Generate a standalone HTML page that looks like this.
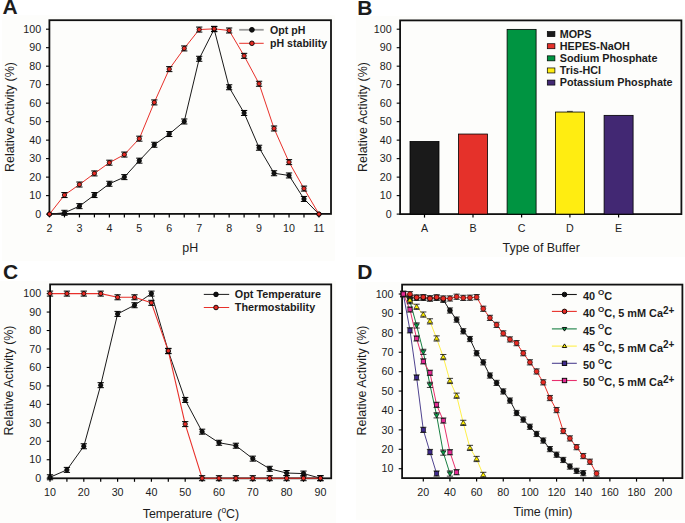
<!DOCTYPE html><html><head><meta charset="utf-8"><style>html,body{margin:0;padding:0;background:#fff;}svg{display:block;}text{font-family:"Liberation Sans", sans-serif;fill:#1c1c1c;}.b{font-weight:bold;}</style></head><body>
<svg width="685" height="523" viewBox="0 0 685 523">
<rect x="0" y="0" width="685" height="523" fill="#ffffff"/>
<rect x="2" y="15.3" width="332.8" height="245.5" fill="#fdfdfb"/>
<rect x="356.1" y="16.1" width="328.9" height="240.8" fill="#fdfdfb"/>
<rect x="0" y="281" width="336" height="242" fill="#fdfdfb"/>
<rect x="356.0" y="282" width="329" height="237.7" fill="#fdfdfb"/>
<text class="b" x="2.60" y="13.80" font-size="21">A</text>
<rect x="49.40" y="20.20" width="281.60" height="193.70" fill="none" stroke="#111" stroke-width="1.8"/>
<line x1="46.00" y1="214.10" x2="49.40" y2="214.10" stroke="#000" stroke-width="1.1"/>
<text x="41.20" y="217.80" font-size="10.7" text-anchor="end">0</text>
<line x1="46.00" y1="195.61" x2="49.40" y2="195.61" stroke="#000" stroke-width="1.1"/>
<text x="41.20" y="199.31" font-size="10.7" text-anchor="end">10</text>
<line x1="46.00" y1="177.12" x2="49.40" y2="177.12" stroke="#000" stroke-width="1.1"/>
<text x="41.20" y="180.82" font-size="10.7" text-anchor="end">20</text>
<line x1="46.00" y1="158.63" x2="49.40" y2="158.63" stroke="#000" stroke-width="1.1"/>
<text x="41.20" y="162.33" font-size="10.7" text-anchor="end">30</text>
<line x1="46.00" y1="140.14" x2="49.40" y2="140.14" stroke="#000" stroke-width="1.1"/>
<text x="41.20" y="143.84" font-size="10.7" text-anchor="end">40</text>
<line x1="46.00" y1="121.65" x2="49.40" y2="121.65" stroke="#000" stroke-width="1.1"/>
<text x="41.20" y="125.35" font-size="10.7" text-anchor="end">50</text>
<line x1="46.00" y1="103.16" x2="49.40" y2="103.16" stroke="#000" stroke-width="1.1"/>
<text x="41.20" y="106.86" font-size="10.7" text-anchor="end">60</text>
<line x1="46.00" y1="84.67" x2="49.40" y2="84.67" stroke="#000" stroke-width="1.1"/>
<text x="41.20" y="88.37" font-size="10.7" text-anchor="end">70</text>
<line x1="46.00" y1="66.18" x2="49.40" y2="66.18" stroke="#000" stroke-width="1.1"/>
<text x="41.20" y="69.88" font-size="10.7" text-anchor="end">80</text>
<line x1="46.00" y1="47.69" x2="49.40" y2="47.69" stroke="#000" stroke-width="1.1"/>
<text x="41.20" y="51.39" font-size="10.7" text-anchor="end">90</text>
<line x1="46.00" y1="29.20" x2="49.40" y2="29.20" stroke="#000" stroke-width="1.1"/>
<text x="41.20" y="32.90" font-size="10.7" text-anchor="end">100</text>
<line x1="49.50" y1="213.90" x2="49.50" y2="217.40" stroke="#000" stroke-width="1.2"/>
<text x="49.50" y="232.00" font-size="10.7" text-anchor="middle">2</text>
<line x1="64.47" y1="213.90" x2="64.47" y2="217.40" stroke="#000" stroke-width="1.2"/>
<line x1="79.44" y1="213.90" x2="79.44" y2="217.40" stroke="#000" stroke-width="1.2"/>
<text x="79.44" y="232.00" font-size="10.7" text-anchor="middle">3</text>
<line x1="94.41" y1="213.90" x2="94.41" y2="217.40" stroke="#000" stroke-width="1.2"/>
<line x1="109.38" y1="213.90" x2="109.38" y2="217.40" stroke="#000" stroke-width="1.2"/>
<text x="109.38" y="232.00" font-size="10.7" text-anchor="middle">4</text>
<line x1="124.35" y1="213.90" x2="124.35" y2="217.40" stroke="#000" stroke-width="1.2"/>
<line x1="139.32" y1="213.90" x2="139.32" y2="217.40" stroke="#000" stroke-width="1.2"/>
<text x="139.32" y="232.00" font-size="10.7" text-anchor="middle">5</text>
<line x1="154.29" y1="213.90" x2="154.29" y2="217.40" stroke="#000" stroke-width="1.2"/>
<line x1="169.26" y1="213.90" x2="169.26" y2="217.40" stroke="#000" stroke-width="1.2"/>
<text x="169.26" y="232.00" font-size="10.7" text-anchor="middle">6</text>
<line x1="184.23" y1="213.90" x2="184.23" y2="217.40" stroke="#000" stroke-width="1.2"/>
<line x1="199.20" y1="213.90" x2="199.20" y2="217.40" stroke="#000" stroke-width="1.2"/>
<text x="199.20" y="232.00" font-size="10.7" text-anchor="middle">7</text>
<line x1="214.17" y1="213.90" x2="214.17" y2="217.40" stroke="#000" stroke-width="1.2"/>
<line x1="229.14" y1="213.90" x2="229.14" y2="217.40" stroke="#000" stroke-width="1.2"/>
<text x="229.14" y="232.00" font-size="10.7" text-anchor="middle">8</text>
<line x1="244.11" y1="213.90" x2="244.11" y2="217.40" stroke="#000" stroke-width="1.2"/>
<line x1="259.08" y1="213.90" x2="259.08" y2="217.40" stroke="#000" stroke-width="1.2"/>
<text x="259.08" y="232.00" font-size="10.7" text-anchor="middle">9</text>
<line x1="274.05" y1="213.90" x2="274.05" y2="217.40" stroke="#000" stroke-width="1.2"/>
<line x1="289.02" y1="213.90" x2="289.02" y2="217.40" stroke="#000" stroke-width="1.2"/>
<text x="289.02" y="232.00" font-size="10.7" text-anchor="middle">10</text>
<line x1="303.99" y1="213.90" x2="303.99" y2="217.40" stroke="#000" stroke-width="1.2"/>
<line x1="318.96" y1="213.90" x2="318.96" y2="217.40" stroke="#000" stroke-width="1.2"/>
<text x="318.96" y="232.00" font-size="10.7" text-anchor="middle">11</text>
<text x="190.20" y="251.70" font-size="12.45" text-anchor="middle">pH</text>
<text transform="translate(13.80,172.00) rotate(-90)" font-size="12.45">Relative Activity (%)</text>
<path d="M49.50 214.10L64.47 212.81L79.44 206.15L94.41 195.06L109.38 183.78L124.35 177.12L139.32 160.66L154.29 144.76L169.26 134.04L184.23 121.47L199.20 58.78L214.17 29.20L229.14 87.26L244.11 112.96L259.08 147.72L274.05 173.24L289.02 175.46L303.99 198.94L318.96 214.10" fill="none" stroke="#1a1a1a" stroke-width="1.0" stroke-linejoin="round"/>
<path d="M49.50 214.10L64.47 195.06L79.44 184.52L94.41 173.42L109.38 162.70L124.35 154.56L139.32 138.66L154.29 102.42L169.26 69.14L184.23 48.43L199.20 29.57L214.17 28.83L229.14 30.49L244.11 55.83L259.08 83.75L274.05 128.49L289.02 162.14L303.99 188.58L318.96 214.10" fill="none" stroke="#e8302a" stroke-width="1.0" stroke-linejoin="round"/>
<circle cx="49.50" cy="214.10" r="2.15" fill="#111" stroke="#000" stroke-width="0.8"/>
<path d="M61.32 210.31H67.62M61.32 215.31H67.62M64.47 210.31V215.31" stroke="#000" stroke-width="1" fill="none"/>
<circle cx="64.47" cy="212.81" r="2.15" fill="#111" stroke="#000" stroke-width="0.8"/>
<path d="M76.29 203.65H82.59M76.29 208.65H82.59M79.44 203.65V208.65" stroke="#000" stroke-width="1" fill="none"/>
<circle cx="79.44" cy="206.15" r="2.15" fill="#111" stroke="#000" stroke-width="0.8"/>
<path d="M91.26 192.56H97.56M91.26 197.56H97.56M94.41 192.56V197.56" stroke="#000" stroke-width="1" fill="none"/>
<circle cx="94.41" cy="195.06" r="2.15" fill="#111" stroke="#000" stroke-width="0.8"/>
<path d="M106.23 181.28H112.53M106.23 186.28H112.53M109.38 181.28V186.28" stroke="#000" stroke-width="1" fill="none"/>
<circle cx="109.38" cy="183.78" r="2.15" fill="#111" stroke="#000" stroke-width="0.8"/>
<path d="M121.20 174.62H127.50M121.20 179.62H127.50M124.35 174.62V179.62" stroke="#000" stroke-width="1" fill="none"/>
<circle cx="124.35" cy="177.12" r="2.15" fill="#111" stroke="#000" stroke-width="0.8"/>
<path d="M136.17 158.16H142.47M136.17 163.16H142.47M139.32 158.16V163.16" stroke="#000" stroke-width="1" fill="none"/>
<circle cx="139.32" cy="160.66" r="2.15" fill="#111" stroke="#000" stroke-width="0.8"/>
<path d="M151.14 142.26H157.44M151.14 147.26H157.44M154.29 142.26V147.26" stroke="#000" stroke-width="1" fill="none"/>
<circle cx="154.29" cy="144.76" r="2.15" fill="#111" stroke="#000" stroke-width="0.8"/>
<path d="M166.11 131.54H172.41M166.11 136.54H172.41M169.26 131.54V136.54" stroke="#000" stroke-width="1" fill="none"/>
<circle cx="169.26" cy="134.04" r="2.15" fill="#111" stroke="#000" stroke-width="0.8"/>
<path d="M181.08 118.97H187.38M181.08 123.97H187.38M184.23 118.97V123.97" stroke="#000" stroke-width="1" fill="none"/>
<circle cx="184.23" cy="121.47" r="2.15" fill="#111" stroke="#000" stroke-width="0.8"/>
<path d="M196.05 56.28H202.35M196.05 61.28H202.35M199.20 56.28V61.28" stroke="#000" stroke-width="1" fill="none"/>
<circle cx="199.20" cy="58.78" r="2.15" fill="#111" stroke="#000" stroke-width="0.8"/>
<path d="M211.02 26.70H217.32M211.02 31.70H217.32M214.17 26.70V31.70" stroke="#000" stroke-width="1" fill="none"/>
<circle cx="214.17" cy="29.20" r="2.15" fill="#111" stroke="#000" stroke-width="0.8"/>
<path d="M225.99 84.76H232.29M225.99 89.76H232.29M229.14 84.76V89.76" stroke="#000" stroke-width="1" fill="none"/>
<circle cx="229.14" cy="87.26" r="2.15" fill="#111" stroke="#000" stroke-width="0.8"/>
<path d="M240.96 110.46H247.26M240.96 115.46H247.26M244.11 110.46V115.46" stroke="#000" stroke-width="1" fill="none"/>
<circle cx="244.11" cy="112.96" r="2.15" fill="#111" stroke="#000" stroke-width="0.8"/>
<path d="M255.93 145.22H262.23M255.93 150.22H262.23M259.08 145.22V150.22" stroke="#000" stroke-width="1" fill="none"/>
<circle cx="259.08" cy="147.72" r="2.15" fill="#111" stroke="#000" stroke-width="0.8"/>
<path d="M270.90 170.74H277.20M270.90 175.74H277.20M274.05 170.74V175.74" stroke="#000" stroke-width="1" fill="none"/>
<circle cx="274.05" cy="173.24" r="2.15" fill="#111" stroke="#000" stroke-width="0.8"/>
<path d="M285.87 172.96H292.17M285.87 177.96H292.17M289.02 172.96V177.96" stroke="#000" stroke-width="1" fill="none"/>
<circle cx="289.02" cy="175.46" r="2.15" fill="#111" stroke="#000" stroke-width="0.8"/>
<path d="M300.84 196.44H307.14M300.84 201.44H307.14M303.99 196.44V201.44" stroke="#000" stroke-width="1" fill="none"/>
<circle cx="303.99" cy="198.94" r="2.15" fill="#111" stroke="#000" stroke-width="0.8"/>
<circle cx="318.96" cy="214.10" r="2.15" fill="#111" stroke="#000" stroke-width="0.8"/>
<circle cx="49.50" cy="214.10" r="2.15" fill="#e62b24" stroke="#000" stroke-width="0.8"/>
<path d="M61.32 192.56H67.62M61.32 197.56H67.62M64.47 192.56V197.56" stroke="#000" stroke-width="1" fill="none"/>
<circle cx="64.47" cy="195.06" r="2.15" fill="#e62b24" stroke="#000" stroke-width="0.8"/>
<path d="M76.29 182.02H82.59M76.29 187.02H82.59M79.44 182.02V187.02" stroke="#000" stroke-width="1" fill="none"/>
<circle cx="79.44" cy="184.52" r="2.15" fill="#e62b24" stroke="#000" stroke-width="0.8"/>
<path d="M91.26 170.92H97.56M91.26 175.92H97.56M94.41 170.92V175.92" stroke="#000" stroke-width="1" fill="none"/>
<circle cx="94.41" cy="173.42" r="2.15" fill="#e62b24" stroke="#000" stroke-width="0.8"/>
<path d="M106.23 160.20H112.53M106.23 165.20H112.53M109.38 160.20V165.20" stroke="#000" stroke-width="1" fill="none"/>
<circle cx="109.38" cy="162.70" r="2.15" fill="#e62b24" stroke="#000" stroke-width="0.8"/>
<path d="M121.20 152.06H127.50M121.20 157.06H127.50M124.35 152.06V157.06" stroke="#000" stroke-width="1" fill="none"/>
<circle cx="124.35" cy="154.56" r="2.15" fill="#e62b24" stroke="#000" stroke-width="0.8"/>
<path d="M136.17 136.16H142.47M136.17 141.16H142.47M139.32 136.16V141.16" stroke="#000" stroke-width="1" fill="none"/>
<circle cx="139.32" cy="138.66" r="2.15" fill="#e62b24" stroke="#000" stroke-width="0.8"/>
<path d="M151.14 99.92H157.44M151.14 104.92H157.44M154.29 99.92V104.92" stroke="#000" stroke-width="1" fill="none"/>
<circle cx="154.29" cy="102.42" r="2.15" fill="#e62b24" stroke="#000" stroke-width="0.8"/>
<path d="M166.11 66.64H172.41M166.11 71.64H172.41M169.26 66.64V71.64" stroke="#000" stroke-width="1" fill="none"/>
<circle cx="169.26" cy="69.14" r="2.15" fill="#e62b24" stroke="#000" stroke-width="0.8"/>
<path d="M181.08 45.93H187.38M181.08 50.93H187.38M184.23 45.93V50.93" stroke="#000" stroke-width="1" fill="none"/>
<circle cx="184.23" cy="48.43" r="2.15" fill="#e62b24" stroke="#000" stroke-width="0.8"/>
<path d="M196.05 27.07H202.35M196.05 32.07H202.35M199.20 27.07V32.07" stroke="#000" stroke-width="1" fill="none"/>
<circle cx="199.20" cy="29.57" r="2.15" fill="#e62b24" stroke="#000" stroke-width="0.8"/>
<path d="M211.02 26.33H217.32M211.02 31.33H217.32M214.17 26.33V31.33" stroke="#000" stroke-width="1" fill="none"/>
<circle cx="214.17" cy="28.83" r="2.15" fill="#e62b24" stroke="#000" stroke-width="0.8"/>
<path d="M225.99 27.99H232.29M225.99 32.99H232.29M229.14 27.99V32.99" stroke="#000" stroke-width="1" fill="none"/>
<circle cx="229.14" cy="30.49" r="2.15" fill="#e62b24" stroke="#000" stroke-width="0.8"/>
<path d="M240.96 53.33H247.26M240.96 58.33H247.26M244.11 53.33V58.33" stroke="#000" stroke-width="1" fill="none"/>
<circle cx="244.11" cy="55.83" r="2.15" fill="#e62b24" stroke="#000" stroke-width="0.8"/>
<path d="M255.93 81.25H262.23M255.93 86.25H262.23M259.08 81.25V86.25" stroke="#000" stroke-width="1" fill="none"/>
<circle cx="259.08" cy="83.75" r="2.15" fill="#e62b24" stroke="#000" stroke-width="0.8"/>
<path d="M270.90 125.99H277.20M270.90 130.99H277.20M274.05 125.99V130.99" stroke="#000" stroke-width="1" fill="none"/>
<circle cx="274.05" cy="128.49" r="2.15" fill="#e62b24" stroke="#000" stroke-width="0.8"/>
<path d="M285.87 159.64H292.17M285.87 164.64H292.17M289.02 159.64V164.64" stroke="#000" stroke-width="1" fill="none"/>
<circle cx="289.02" cy="162.14" r="2.15" fill="#e62b24" stroke="#000" stroke-width="0.8"/>
<path d="M300.84 186.08H307.14M300.84 191.08H307.14M303.99 186.08V191.08" stroke="#000" stroke-width="1" fill="none"/>
<circle cx="303.99" cy="188.58" r="2.15" fill="#e62b24" stroke="#000" stroke-width="0.8"/>
<circle cx="318.96" cy="214.10" r="2.15" fill="#e62b24" stroke="#000" stroke-width="0.8"/>
<line x1="239.2" y1="29.8" x2="263.7" y2="29.8" stroke="#9a9a9a" stroke-width="1.8"/>
<circle cx="251.90" cy="29.80" r="2.40" fill="#111" stroke="#000" stroke-width="0.9"/>
<line x1="239.2" y1="43.3" x2="263.7" y2="43.3" stroke="#e8302a" stroke-width="1"/>
<circle cx="251.90" cy="43.30" r="2.30" fill="#e62b24" stroke="#000" stroke-width="0.9"/>
<text class="b" x="270.0" y="33.9" font-size="10.6">Opt pH</text>
<text class="b" x="270.0" y="47.4" font-size="10.6">pH stability</text>
<text class="b" x="357.30" y="15.00" font-size="21">B</text>
<rect x="400.10" y="20.40" width="281.30" height="193.70" fill="none" stroke="#111" stroke-width="1.8"/>
<line x1="396.70" y1="214.10" x2="400.10" y2="214.10" stroke="#000" stroke-width="1.1"/>
<text x="391.60" y="217.80" font-size="10.7" text-anchor="end">0</text>
<line x1="396.70" y1="195.61" x2="400.10" y2="195.61" stroke="#000" stroke-width="1.1"/>
<text x="391.60" y="199.31" font-size="10.7" text-anchor="end">10</text>
<line x1="396.70" y1="177.12" x2="400.10" y2="177.12" stroke="#000" stroke-width="1.1"/>
<text x="391.60" y="180.82" font-size="10.7" text-anchor="end">20</text>
<line x1="396.70" y1="158.63" x2="400.10" y2="158.63" stroke="#000" stroke-width="1.1"/>
<text x="391.60" y="162.33" font-size="10.7" text-anchor="end">30</text>
<line x1="396.70" y1="140.14" x2="400.10" y2="140.14" stroke="#000" stroke-width="1.1"/>
<text x="391.60" y="143.84" font-size="10.7" text-anchor="end">40</text>
<line x1="396.70" y1="121.65" x2="400.10" y2="121.65" stroke="#000" stroke-width="1.1"/>
<text x="391.60" y="125.35" font-size="10.7" text-anchor="end">50</text>
<line x1="396.70" y1="103.16" x2="400.10" y2="103.16" stroke="#000" stroke-width="1.1"/>
<text x="391.60" y="106.86" font-size="10.7" text-anchor="end">60</text>
<line x1="396.70" y1="84.67" x2="400.10" y2="84.67" stroke="#000" stroke-width="1.1"/>
<text x="391.60" y="88.37" font-size="10.7" text-anchor="end">70</text>
<line x1="396.70" y1="66.18" x2="400.10" y2="66.18" stroke="#000" stroke-width="1.1"/>
<text x="391.60" y="69.88" font-size="10.7" text-anchor="end">80</text>
<line x1="396.70" y1="47.69" x2="400.10" y2="47.69" stroke="#000" stroke-width="1.1"/>
<text x="391.60" y="51.39" font-size="10.7" text-anchor="end">90</text>
<line x1="396.70" y1="29.20" x2="400.10" y2="29.20" stroke="#000" stroke-width="1.1"/>
<text x="391.60" y="32.90" font-size="10.7" text-anchor="end">100</text>
<rect x="410.00" y="141.43" width="29.00" height="72.67" fill="#1a1a1a" stroke="#000" stroke-width="0.8"/>
<line x1="424.50" y1="214.10" x2="424.50" y2="217.60" stroke="#000" stroke-width="1.2"/>
<text x="424.50" y="231.80" font-size="10.7" text-anchor="middle">A</text>
<rect x="458.50" y="134.04" width="29.00" height="80.06" fill="#e5312a" stroke="#000" stroke-width="0.8"/>
<line x1="473.00" y1="214.10" x2="473.00" y2="217.60" stroke="#000" stroke-width="1.2"/>
<text x="473.00" y="231.80" font-size="10.7" text-anchor="middle">B</text>
<rect x="507.10" y="29.38" width="29.00" height="184.72" fill="#009441" stroke="#000" stroke-width="0.8"/>
<line x1="521.60" y1="214.10" x2="521.60" y2="217.60" stroke="#000" stroke-width="1.2"/>
<text x="521.60" y="231.80" font-size="10.7" text-anchor="middle">C</text>
<rect x="555.40" y="112.04" width="29.00" height="102.06" fill="#ffed11" stroke="#000" stroke-width="0.8"/>
<line x1="569.90" y1="214.10" x2="569.90" y2="217.60" stroke="#000" stroke-width="1.2"/>
<text x="569.90" y="231.80" font-size="10.7" text-anchor="middle">D</text>
<rect x="604.10" y="115.36" width="29.00" height="98.74" fill="#422873" stroke="#000" stroke-width="0.8"/>
<line x1="618.60" y1="214.10" x2="618.60" y2="217.60" stroke="#000" stroke-width="1.2"/>
<text x="618.60" y="231.80" font-size="10.7" text-anchor="middle">E</text>
<line x1="567" y1="111.4" x2="572.8" y2="111.4" stroke="#333" stroke-width="1"/>
<text x="541.20" y="251.80" font-size="12.45" text-anchor="middle">Type of Buffer</text>
<text transform="translate(366.90,172.00) rotate(-90)" font-size="12.45">Relative Activity (%)</text>
<rect x="547.3" y="31.60" width="7.6" height="5" fill="#1a1a1a" stroke="#000" stroke-width="0.7"/>
<text class="b" x="559.7" y="37.90" font-size="10.8">MOPS</text>
<rect x="547.3" y="43.72" width="7.6" height="5" fill="#e5312a" stroke="#000" stroke-width="0.7"/>
<text class="b" x="559.7" y="50.02" font-size="10.8">HEPES-NaOH</text>
<rect x="547.3" y="55.84" width="7.6" height="5" fill="#009441" stroke="#000" stroke-width="0.7"/>
<text class="b" x="559.7" y="62.14" font-size="10.8">Sodium Phosphate</text>
<rect x="547.3" y="67.96" width="7.6" height="5" fill="#ffed11" stroke="#000" stroke-width="0.7"/>
<text class="b" x="559.7" y="74.26" font-size="10.8">Tris-HCl</text>
<rect x="547.3" y="80.08" width="7.6" height="5" fill="#422873" stroke="#000" stroke-width="0.7"/>
<text class="b" x="559.7" y="86.38" font-size="10.8">Potassium Phosphate</text>
<text class="b" x="3.00" y="278.50" font-size="21">C</text>
<rect x="50.10" y="284.40" width="281.10" height="193.90" fill="none" stroke="#111" stroke-width="1.8"/>
<line x1="46.70" y1="478.20" x2="50.10" y2="478.20" stroke="#000" stroke-width="1.1"/>
<text x="41.20" y="481.90" font-size="10.7" text-anchor="end">0</text>
<line x1="46.70" y1="459.74" x2="50.10" y2="459.74" stroke="#000" stroke-width="1.1"/>
<text x="41.20" y="463.44" font-size="10.7" text-anchor="end">10</text>
<line x1="46.70" y1="441.28" x2="50.10" y2="441.28" stroke="#000" stroke-width="1.1"/>
<text x="41.20" y="444.98" font-size="10.7" text-anchor="end">20</text>
<line x1="46.70" y1="422.82" x2="50.10" y2="422.82" stroke="#000" stroke-width="1.1"/>
<text x="41.20" y="426.52" font-size="10.7" text-anchor="end">30</text>
<line x1="46.70" y1="404.36" x2="50.10" y2="404.36" stroke="#000" stroke-width="1.1"/>
<text x="41.20" y="408.06" font-size="10.7" text-anchor="end">40</text>
<line x1="46.70" y1="385.90" x2="50.10" y2="385.90" stroke="#000" stroke-width="1.1"/>
<text x="41.20" y="389.60" font-size="10.7" text-anchor="end">50</text>
<line x1="46.70" y1="367.44" x2="50.10" y2="367.44" stroke="#000" stroke-width="1.1"/>
<text x="41.20" y="371.14" font-size="10.7" text-anchor="end">60</text>
<line x1="46.70" y1="348.98" x2="50.10" y2="348.98" stroke="#000" stroke-width="1.1"/>
<text x="41.20" y="352.68" font-size="10.7" text-anchor="end">70</text>
<line x1="46.70" y1="330.52" x2="50.10" y2="330.52" stroke="#000" stroke-width="1.1"/>
<text x="41.20" y="334.22" font-size="10.7" text-anchor="end">80</text>
<line x1="46.70" y1="312.06" x2="50.10" y2="312.06" stroke="#000" stroke-width="1.1"/>
<text x="41.20" y="315.76" font-size="10.7" text-anchor="end">90</text>
<line x1="46.70" y1="293.60" x2="50.10" y2="293.60" stroke="#000" stroke-width="1.1"/>
<text x="41.20" y="297.30" font-size="10.7" text-anchor="end">100</text>
<line x1="50.00" y1="478.30" x2="50.00" y2="481.80" stroke="#000" stroke-width="1.2"/>
<text x="50.00" y="496.00" font-size="10.7" text-anchor="middle">10</text>
<line x1="66.90" y1="478.30" x2="66.90" y2="481.80" stroke="#000" stroke-width="1.2"/>
<line x1="83.80" y1="478.30" x2="83.80" y2="481.80" stroke="#000" stroke-width="1.2"/>
<text x="83.80" y="496.00" font-size="10.7" text-anchor="middle">20</text>
<line x1="100.70" y1="478.30" x2="100.70" y2="481.80" stroke="#000" stroke-width="1.2"/>
<line x1="117.60" y1="478.30" x2="117.60" y2="481.80" stroke="#000" stroke-width="1.2"/>
<text x="117.60" y="496.00" font-size="10.7" text-anchor="middle">30</text>
<line x1="134.50" y1="478.30" x2="134.50" y2="481.80" stroke="#000" stroke-width="1.2"/>
<line x1="151.40" y1="478.30" x2="151.40" y2="481.80" stroke="#000" stroke-width="1.2"/>
<text x="151.40" y="496.00" font-size="10.7" text-anchor="middle">40</text>
<line x1="168.30" y1="478.30" x2="168.30" y2="481.80" stroke="#000" stroke-width="1.2"/>
<line x1="185.20" y1="478.30" x2="185.20" y2="481.80" stroke="#000" stroke-width="1.2"/>
<text x="185.20" y="496.00" font-size="10.7" text-anchor="middle">50</text>
<line x1="202.10" y1="478.30" x2="202.10" y2="481.80" stroke="#000" stroke-width="1.2"/>
<line x1="219.00" y1="478.30" x2="219.00" y2="481.80" stroke="#000" stroke-width="1.2"/>
<text x="219.00" y="496.00" font-size="10.7" text-anchor="middle">60</text>
<line x1="235.90" y1="478.30" x2="235.90" y2="481.80" stroke="#000" stroke-width="1.2"/>
<line x1="252.80" y1="478.30" x2="252.80" y2="481.80" stroke="#000" stroke-width="1.2"/>
<text x="252.80" y="496.00" font-size="10.7" text-anchor="middle">70</text>
<line x1="269.70" y1="478.30" x2="269.70" y2="481.80" stroke="#000" stroke-width="1.2"/>
<line x1="286.60" y1="478.30" x2="286.60" y2="481.80" stroke="#000" stroke-width="1.2"/>
<text x="286.60" y="496.00" font-size="10.7" text-anchor="middle">80</text>
<line x1="303.50" y1="478.30" x2="303.50" y2="481.80" stroke="#000" stroke-width="1.2"/>
<line x1="320.40" y1="478.30" x2="320.40" y2="481.80" stroke="#000" stroke-width="1.2"/>
<text x="320.40" y="496.00" font-size="10.7" text-anchor="middle">90</text>
<text x="142.7" y="517.8" font-size="12.45">Temperature <tspan dx="1.3">(</tspan><tspan font-size="8.4" dy="-5">o</tspan><tspan dy="5" dx="-0.2">C)</tspan></text>
<text transform="translate(13.40,435.40) rotate(-90)" font-size="12.45">Relative Activity (%)</text>
<path d="M50.00 477.28L66.90 469.89L83.80 446.26L100.70 385.16L117.60 313.91L134.50 305.23L151.40 293.60L168.30 351.20L185.20 399.93L202.10 431.68L219.00 442.76L235.90 445.71L252.80 458.63L269.70 468.79L286.60 473.03L303.50 473.58L320.40 478.20" fill="none" stroke="#1a1a1a" stroke-width="1.0" stroke-linejoin="round"/>
<path d="M50.00 293.60L66.90 293.60L83.80 293.60L100.70 293.60L117.60 297.29L134.50 297.29L151.40 302.83L168.30 350.83L185.20 424.11L202.10 478.20L219.00 478.20L235.90 478.20L252.80 478.20L269.70 478.20L286.60 478.20L303.50 478.20L320.40 478.20" fill="none" stroke="#e8302a" stroke-width="1.1" stroke-linejoin="round"/>
<path d="M46.85 474.78H53.15M46.85 479.78H53.15M50.00 474.78V479.78" stroke="#000" stroke-width="1" fill="none"/>
<circle cx="50.00" cy="477.28" r="2.15" fill="#111" stroke="#000" stroke-width="0.8"/>
<path d="M63.75 467.39H70.05M63.75 472.39H70.05M66.90 467.39V472.39" stroke="#000" stroke-width="1" fill="none"/>
<circle cx="66.90" cy="469.89" r="2.15" fill="#111" stroke="#000" stroke-width="0.8"/>
<path d="M80.65 443.76H86.95M80.65 448.76H86.95M83.80 443.76V448.76" stroke="#000" stroke-width="1" fill="none"/>
<circle cx="83.80" cy="446.26" r="2.15" fill="#111" stroke="#000" stroke-width="0.8"/>
<path d="M97.55 382.66H103.85M97.55 387.66H103.85M100.70 382.66V387.66" stroke="#000" stroke-width="1" fill="none"/>
<circle cx="100.70" cy="385.16" r="2.15" fill="#111" stroke="#000" stroke-width="0.8"/>
<path d="M114.45 311.41H120.75M114.45 316.41H120.75M117.60 311.41V316.41" stroke="#000" stroke-width="1" fill="none"/>
<circle cx="117.60" cy="313.91" r="2.15" fill="#111" stroke="#000" stroke-width="0.8"/>
<path d="M131.35 302.73H137.65M131.35 307.73H137.65M134.50 302.73V307.73" stroke="#000" stroke-width="1" fill="none"/>
<circle cx="134.50" cy="305.23" r="2.15" fill="#111" stroke="#000" stroke-width="0.8"/>
<path d="M148.25 291.10H154.55M148.25 296.10H154.55M151.40 291.10V296.10" stroke="#000" stroke-width="1" fill="none"/>
<circle cx="151.40" cy="293.60" r="2.15" fill="#111" stroke="#000" stroke-width="0.8"/>
<path d="M165.15 348.70H171.45M165.15 353.70H171.45M168.30 348.70V353.70" stroke="#000" stroke-width="1" fill="none"/>
<circle cx="168.30" cy="351.20" r="2.15" fill="#111" stroke="#000" stroke-width="0.8"/>
<path d="M182.05 397.43H188.35M182.05 402.43H188.35M185.20 397.43V402.43" stroke="#000" stroke-width="1" fill="none"/>
<circle cx="185.20" cy="399.93" r="2.15" fill="#111" stroke="#000" stroke-width="0.8"/>
<path d="M198.95 429.18H205.25M198.95 434.18H205.25M202.10 429.18V434.18" stroke="#000" stroke-width="1" fill="none"/>
<circle cx="202.10" cy="431.68" r="2.15" fill="#111" stroke="#000" stroke-width="0.8"/>
<path d="M215.85 440.26H222.15M215.85 445.26H222.15M219.00 440.26V445.26" stroke="#000" stroke-width="1" fill="none"/>
<circle cx="219.00" cy="442.76" r="2.15" fill="#111" stroke="#000" stroke-width="0.8"/>
<path d="M232.75 443.21H239.05M232.75 448.21H239.05M235.90 443.21V448.21" stroke="#000" stroke-width="1" fill="none"/>
<circle cx="235.90" cy="445.71" r="2.15" fill="#111" stroke="#000" stroke-width="0.8"/>
<path d="M249.65 456.13H255.95M249.65 461.13H255.95M252.80 456.13V461.13" stroke="#000" stroke-width="1" fill="none"/>
<circle cx="252.80" cy="458.63" r="2.15" fill="#111" stroke="#000" stroke-width="0.8"/>
<path d="M266.55 466.29H272.85M266.55 471.29H272.85M269.70 466.29V471.29" stroke="#000" stroke-width="1" fill="none"/>
<circle cx="269.70" cy="468.79" r="2.15" fill="#111" stroke="#000" stroke-width="0.8"/>
<path d="M283.45 470.53H289.75M283.45 475.53H289.75M286.60 470.53V475.53" stroke="#000" stroke-width="1" fill="none"/>
<circle cx="286.60" cy="473.03" r="2.15" fill="#111" stroke="#000" stroke-width="0.8"/>
<path d="M300.35 471.08H306.65M300.35 476.08H306.65M303.50 471.08V476.08" stroke="#000" stroke-width="1" fill="none"/>
<circle cx="303.50" cy="473.58" r="2.15" fill="#111" stroke="#000" stroke-width="0.8"/>
<path d="M317.25 475.70H323.55M317.25 480.70H323.55M320.40 475.70V480.70" stroke="#000" stroke-width="1" fill="none"/>
<circle cx="320.40" cy="478.20" r="2.15" fill="#111" stroke="#000" stroke-width="0.8"/>
<path d="M46.85 291.10H53.15M46.85 296.10H53.15M50.00 291.10V296.10" stroke="#000" stroke-width="1" fill="none"/>
<circle cx="50.00" cy="293.60" r="2.15" fill="#e62b24" stroke="#000" stroke-width="0.8"/>
<path d="M63.75 291.10H70.05M63.75 296.10H70.05M66.90 291.10V296.10" stroke="#000" stroke-width="1" fill="none"/>
<circle cx="66.90" cy="293.60" r="2.15" fill="#e62b24" stroke="#000" stroke-width="0.8"/>
<path d="M80.65 291.10H86.95M80.65 296.10H86.95M83.80 291.10V296.10" stroke="#000" stroke-width="1" fill="none"/>
<circle cx="83.80" cy="293.60" r="2.15" fill="#e62b24" stroke="#000" stroke-width="0.8"/>
<path d="M97.55 291.10H103.85M97.55 296.10H103.85M100.70 291.10V296.10" stroke="#000" stroke-width="1" fill="none"/>
<circle cx="100.70" cy="293.60" r="2.15" fill="#e62b24" stroke="#000" stroke-width="0.8"/>
<path d="M114.45 294.79H120.75M114.45 299.79H120.75M117.60 294.79V299.79" stroke="#000" stroke-width="1" fill="none"/>
<circle cx="117.60" cy="297.29" r="2.15" fill="#e62b24" stroke="#000" stroke-width="0.8"/>
<path d="M131.35 294.79H137.65M131.35 299.79H137.65M134.50 294.79V299.79" stroke="#000" stroke-width="1" fill="none"/>
<circle cx="134.50" cy="297.29" r="2.15" fill="#e62b24" stroke="#000" stroke-width="0.8"/>
<path d="M148.25 300.33H154.55M148.25 305.33H154.55M151.40 300.33V305.33" stroke="#000" stroke-width="1" fill="none"/>
<circle cx="151.40" cy="302.83" r="2.15" fill="#e62b24" stroke="#000" stroke-width="0.8"/>
<path d="M165.15 348.33H171.45M165.15 353.33H171.45M168.30 348.33V353.33" stroke="#000" stroke-width="1" fill="none"/>
<circle cx="168.30" cy="350.83" r="2.15" fill="#e62b24" stroke="#000" stroke-width="0.8"/>
<path d="M182.05 421.61H188.35M182.05 426.61H188.35M185.20 421.61V426.61" stroke="#000" stroke-width="1" fill="none"/>
<circle cx="185.20" cy="424.11" r="2.15" fill="#e62b24" stroke="#000" stroke-width="0.8"/>
<path d="M198.95 475.70H205.25M198.95 480.70H205.25M202.10 475.70V480.70" stroke="#000" stroke-width="1" fill="none"/>
<circle cx="202.10" cy="478.20" r="2.15" fill="#e62b24" stroke="#000" stroke-width="0.8"/>
<path d="M215.85 475.70H222.15M215.85 480.70H222.15M219.00 475.70V480.70" stroke="#000" stroke-width="1" fill="none"/>
<circle cx="219.00" cy="478.20" r="2.15" fill="#e62b24" stroke="#000" stroke-width="0.8"/>
<path d="M232.75 475.70H239.05M232.75 480.70H239.05M235.90 475.70V480.70" stroke="#000" stroke-width="1" fill="none"/>
<circle cx="235.90" cy="478.20" r="2.15" fill="#e62b24" stroke="#000" stroke-width="0.8"/>
<path d="M249.65 475.70H255.95M249.65 480.70H255.95M252.80 475.70V480.70" stroke="#000" stroke-width="1" fill="none"/>
<circle cx="252.80" cy="478.20" r="2.15" fill="#e62b24" stroke="#000" stroke-width="0.8"/>
<path d="M266.55 475.70H272.85M266.55 480.70H272.85M269.70 475.70V480.70" stroke="#000" stroke-width="1" fill="none"/>
<circle cx="269.70" cy="478.20" r="2.15" fill="#e62b24" stroke="#000" stroke-width="0.8"/>
<path d="M283.45 475.70H289.75M283.45 480.70H289.75M286.60 475.70V480.70" stroke="#000" stroke-width="1" fill="none"/>
<circle cx="286.60" cy="478.20" r="2.15" fill="#e62b24" stroke="#000" stroke-width="0.8"/>
<path d="M300.35 475.70H306.65M300.35 480.70H306.65M303.50 475.70V480.70" stroke="#000" stroke-width="1" fill="none"/>
<circle cx="303.50" cy="478.20" r="2.15" fill="#e62b24" stroke="#000" stroke-width="0.8"/>
<path d="M317.25 475.70H323.55M317.25 480.70H323.55M320.40 475.70V480.70" stroke="#000" stroke-width="1" fill="none"/>
<circle cx="320.40" cy="478.20" r="2.15" fill="#e62b24" stroke="#000" stroke-width="0.8"/>
<line x1="203.8" y1="294.4" x2="229.2" y2="294.4" stroke="#1a1a1a" stroke-width="1"/>
<circle cx="216.00" cy="294.40" r="2.30" fill="#111" stroke="#000" stroke-width="0.9"/>
<line x1="203.8" y1="307.5" x2="229.2" y2="307.5" stroke="#e8302a" stroke-width="1"/>
<circle cx="216.00" cy="307.50" r="2.30" fill="#e62b24" stroke="#000" stroke-width="0.9"/>
<text class="b" x="234.8" y="298.1" font-size="10.8">Opt Temperature</text>
<text class="b" x="234.8" y="311.2" font-size="10.8">Thermostability</text>
<text class="b" x="357.30" y="279.20" font-size="21">D</text>
<rect x="402.10" y="284.60" width="280.30" height="193.50" fill="none" stroke="#111" stroke-width="1.8"/>
<line x1="398.70" y1="468.70" x2="402.10" y2="468.70" stroke="#000" stroke-width="1.1"/>
<text x="393.50" y="472.40" font-size="10.7" text-anchor="end">10</text>
<line x1="398.70" y1="449.29" x2="402.10" y2="449.29" stroke="#000" stroke-width="1.1"/>
<text x="393.50" y="452.99" font-size="10.7" text-anchor="end">20</text>
<line x1="398.70" y1="429.88" x2="402.10" y2="429.88" stroke="#000" stroke-width="1.1"/>
<text x="393.50" y="433.58" font-size="10.7" text-anchor="end">30</text>
<line x1="398.70" y1="410.47" x2="402.10" y2="410.47" stroke="#000" stroke-width="1.1"/>
<text x="393.50" y="414.17" font-size="10.7" text-anchor="end">40</text>
<line x1="398.70" y1="391.06" x2="402.10" y2="391.06" stroke="#000" stroke-width="1.1"/>
<text x="393.50" y="394.76" font-size="10.7" text-anchor="end">50</text>
<line x1="398.70" y1="371.65" x2="402.10" y2="371.65" stroke="#000" stroke-width="1.1"/>
<text x="393.50" y="375.35" font-size="10.7" text-anchor="end">60</text>
<line x1="398.70" y1="352.24" x2="402.10" y2="352.24" stroke="#000" stroke-width="1.1"/>
<text x="393.50" y="355.94" font-size="10.7" text-anchor="end">70</text>
<line x1="398.70" y1="332.83" x2="402.10" y2="332.83" stroke="#000" stroke-width="1.1"/>
<text x="393.50" y="336.53" font-size="10.7" text-anchor="end">80</text>
<line x1="398.70" y1="313.42" x2="402.10" y2="313.42" stroke="#000" stroke-width="1.1"/>
<text x="393.50" y="317.12" font-size="10.7" text-anchor="end">90</text>
<line x1="398.70" y1="294.01" x2="402.10" y2="294.01" stroke="#000" stroke-width="1.1"/>
<text x="393.50" y="297.71" font-size="10.7" text-anchor="end">100</text>
<line x1="423.30" y1="478.10" x2="423.30" y2="481.60" stroke="#000" stroke-width="1.2"/>
<text x="423.30" y="496.20" font-size="10.7" text-anchor="middle">20</text>
<line x1="449.95" y1="478.10" x2="449.95" y2="481.60" stroke="#000" stroke-width="1.2"/>
<text x="449.95" y="496.20" font-size="10.7" text-anchor="middle">40</text>
<line x1="476.61" y1="478.10" x2="476.61" y2="481.60" stroke="#000" stroke-width="1.2"/>
<text x="476.61" y="496.20" font-size="10.7" text-anchor="middle">60</text>
<line x1="503.26" y1="478.10" x2="503.26" y2="481.60" stroke="#000" stroke-width="1.2"/>
<text x="503.26" y="496.20" font-size="10.7" text-anchor="middle">80</text>
<line x1="529.92" y1="478.10" x2="529.92" y2="481.60" stroke="#000" stroke-width="1.2"/>
<text x="529.92" y="496.20" font-size="10.7" text-anchor="middle">100</text>
<line x1="556.58" y1="478.10" x2="556.58" y2="481.60" stroke="#000" stroke-width="1.2"/>
<text x="556.58" y="496.20" font-size="10.7" text-anchor="middle">120</text>
<line x1="583.23" y1="478.10" x2="583.23" y2="481.60" stroke="#000" stroke-width="1.2"/>
<text x="583.23" y="496.20" font-size="10.7" text-anchor="middle">140</text>
<line x1="609.89" y1="478.10" x2="609.89" y2="481.60" stroke="#000" stroke-width="1.2"/>
<text x="609.89" y="496.20" font-size="10.7" text-anchor="middle">160</text>
<line x1="636.54" y1="478.10" x2="636.54" y2="481.60" stroke="#000" stroke-width="1.2"/>
<text x="636.54" y="496.20" font-size="10.7" text-anchor="middle">180</text>
<line x1="663.20" y1="478.10" x2="663.20" y2="481.60" stroke="#000" stroke-width="1.2"/>
<text x="663.20" y="496.20" font-size="10.7" text-anchor="middle">200</text>
<text x="543.00" y="516.30" font-size="12.45" text-anchor="middle">Time (min)</text>
<text transform="translate(366.10,435.40) rotate(-90)" font-size="12.45">Relative Activity (%)</text>
<path d="M403.30 294.01L409.97 297.89L416.63 297.89L423.30 297.89L429.96 298.47L436.62 297.89L443.29 299.83L449.95 310.51L456.62 319.63L463.28 331.28L469.94 339.04L476.61 353.21L483.27 362.33L489.94 375.53L496.60 382.91L503.26 391.45L509.93 400.57L516.59 412.99L523.26 419.59L529.92 426.77L536.58 433.96L543.25 440.56L549.91 449.10L556.58 454.72L563.24 459.97L569.90 466.56L576.57 470.84L583.23 473.16" fill="none" stroke="#1a1a1a" stroke-width="1.0" stroke-linejoin="round"/>
<path d="M403.30 294.01L409.97 301.19L416.63 325.45L423.30 351.85L429.96 384.85L436.62 415.32L443.29 452.59L449.95 473.55" fill="none" stroke="#187f42" stroke-width="1.0" stroke-linejoin="round"/>
<path d="M403.30 294.01L409.97 330.31L416.63 377.47L423.30 429.88L429.96 452.01L436.62 473.55" fill="none" stroke="#4f4390" stroke-width="1.0" stroke-linejoin="round"/>
<path d="M403.30 294.01L409.97 294.20L416.63 297.50L423.30 297.12L429.96 298.47L436.62 297.31L443.29 298.47L449.95 298.47L456.62 296.73L463.28 297.89L469.94 297.70L476.61 297.12L483.27 308.76L489.94 317.88L496.60 324.87L503.26 333.41L509.93 339.43L516.59 343.12L523.26 353.21L529.92 362.33L536.58 371.46L543.25 382.33L549.91 398.05L556.58 410.08L563.24 431.04L569.90 438.42L576.57 447.15L583.23 456.08L589.90 461.71L596.56 473.55" fill="none" stroke="#e8302a" stroke-width="1.0" stroke-linejoin="round"/>
<path d="M403.30 294.01L409.97 300.22L416.63 306.82L423.30 314.58L429.96 321.38L436.62 338.46L443.29 357.09L449.95 380.97L456.62 395.72L463.28 422.89L469.94 447.93L476.61 459.00L483.27 474.91" fill="none" stroke="#fff04a" stroke-width="1.0" stroke-linejoin="round"/>
<path d="M403.30 294.01L409.97 309.54L416.63 338.46L423.30 361.36L429.96 372.81L436.62 404.84L443.29 420.56L449.95 452.20L456.62 472.19" fill="none" stroke="#e8306e" stroke-width="1.0" stroke-linejoin="round"/>
<path d="M400.20 291.41H406.40M400.20 296.61H406.40M403.30 291.41V296.61" stroke="#222" stroke-width="0.9" fill="none"/>
<circle cx="403.30" cy="294.01" r="2.45" fill="#111111" stroke="#000" stroke-width="0.6"/>
<path d="M406.87 295.29H413.07M406.87 300.49H413.07M409.97 295.29V300.49" stroke="#222" stroke-width="0.9" fill="none"/>
<circle cx="409.97" cy="297.89" r="2.45" fill="#111111" stroke="#000" stroke-width="0.6"/>
<path d="M413.53 295.29H419.73M413.53 300.49H419.73M416.63 295.29V300.49" stroke="#222" stroke-width="0.9" fill="none"/>
<circle cx="416.63" cy="297.89" r="2.45" fill="#111111" stroke="#000" stroke-width="0.6"/>
<path d="M420.20 295.29H426.40M420.20 300.49H426.40M423.30 295.29V300.49" stroke="#222" stroke-width="0.9" fill="none"/>
<circle cx="423.30" cy="297.89" r="2.45" fill="#111111" stroke="#000" stroke-width="0.6"/>
<path d="M426.86 295.87H433.06M426.86 301.07H433.06M429.96 295.87V301.07" stroke="#222" stroke-width="0.9" fill="none"/>
<circle cx="429.96" cy="298.47" r="2.45" fill="#111111" stroke="#000" stroke-width="0.6"/>
<path d="M433.52 295.29H439.72M433.52 300.49H439.72M436.62 295.29V300.49" stroke="#222" stroke-width="0.9" fill="none"/>
<circle cx="436.62" cy="297.89" r="2.45" fill="#111111" stroke="#000" stroke-width="0.6"/>
<path d="M440.19 297.23H446.39M440.19 302.43H446.39M443.29 297.23V302.43" stroke="#222" stroke-width="0.9" fill="none"/>
<circle cx="443.29" cy="299.83" r="2.45" fill="#111111" stroke="#000" stroke-width="0.6"/>
<path d="M446.85 307.91H453.05M446.85 313.11H453.05M449.95 307.91V313.11" stroke="#222" stroke-width="0.9" fill="none"/>
<circle cx="449.95" cy="310.51" r="2.45" fill="#111111" stroke="#000" stroke-width="0.6"/>
<path d="M453.52 317.03H459.72M453.52 322.23H459.72M456.62 317.03V322.23" stroke="#222" stroke-width="0.9" fill="none"/>
<circle cx="456.62" cy="319.63" r="2.45" fill="#111111" stroke="#000" stroke-width="0.6"/>
<path d="M460.18 328.68H466.38M460.18 333.88H466.38M463.28 328.68V333.88" stroke="#222" stroke-width="0.9" fill="none"/>
<circle cx="463.28" cy="331.28" r="2.45" fill="#111111" stroke="#000" stroke-width="0.6"/>
<path d="M466.84 336.44H473.04M466.84 341.64H473.04M469.94 336.44V341.64" stroke="#222" stroke-width="0.9" fill="none"/>
<circle cx="469.94" cy="339.04" r="2.45" fill="#111111" stroke="#000" stroke-width="0.6"/>
<path d="M473.51 350.61H479.71M473.51 355.81H479.71M476.61 350.61V355.81" stroke="#222" stroke-width="0.9" fill="none"/>
<circle cx="476.61" cy="353.21" r="2.45" fill="#111111" stroke="#000" stroke-width="0.6"/>
<path d="M480.17 359.73H486.37M480.17 364.93H486.37M483.27 359.73V364.93" stroke="#222" stroke-width="0.9" fill="none"/>
<circle cx="483.27" cy="362.33" r="2.45" fill="#111111" stroke="#000" stroke-width="0.6"/>
<path d="M486.84 372.93H493.04M486.84 378.13H493.04M489.94 372.93V378.13" stroke="#222" stroke-width="0.9" fill="none"/>
<circle cx="489.94" cy="375.53" r="2.45" fill="#111111" stroke="#000" stroke-width="0.6"/>
<path d="M493.50 380.31H499.70M493.50 385.51H499.70M496.60 380.31V385.51" stroke="#222" stroke-width="0.9" fill="none"/>
<circle cx="496.60" cy="382.91" r="2.45" fill="#111111" stroke="#000" stroke-width="0.6"/>
<path d="M500.16 388.85H506.36M500.16 394.05H506.36M503.26 388.85V394.05" stroke="#222" stroke-width="0.9" fill="none"/>
<circle cx="503.26" cy="391.45" r="2.45" fill="#111111" stroke="#000" stroke-width="0.6"/>
<path d="M506.83 397.97H513.03M506.83 403.17H513.03M509.93 397.97V403.17" stroke="#222" stroke-width="0.9" fill="none"/>
<circle cx="509.93" cy="400.57" r="2.45" fill="#111111" stroke="#000" stroke-width="0.6"/>
<path d="M513.49 410.39H519.69M513.49 415.59H519.69M516.59 410.39V415.59" stroke="#222" stroke-width="0.9" fill="none"/>
<circle cx="516.59" cy="412.99" r="2.45" fill="#111111" stroke="#000" stroke-width="0.6"/>
<path d="M520.16 416.99H526.36M520.16 422.19H526.36M523.26 416.99V422.19" stroke="#222" stroke-width="0.9" fill="none"/>
<circle cx="523.26" cy="419.59" r="2.45" fill="#111111" stroke="#000" stroke-width="0.6"/>
<path d="M526.82 424.17H533.02M526.82 429.37H533.02M529.92 424.17V429.37" stroke="#222" stroke-width="0.9" fill="none"/>
<circle cx="529.92" cy="426.77" r="2.45" fill="#111111" stroke="#000" stroke-width="0.6"/>
<path d="M533.48 431.36H539.68M533.48 436.56H539.68M536.58 431.36V436.56" stroke="#222" stroke-width="0.9" fill="none"/>
<circle cx="536.58" cy="433.96" r="2.45" fill="#111111" stroke="#000" stroke-width="0.6"/>
<path d="M540.15 437.96H546.35M540.15 443.16H546.35M543.25 437.96V443.16" stroke="#222" stroke-width="0.9" fill="none"/>
<circle cx="543.25" cy="440.56" r="2.45" fill="#111111" stroke="#000" stroke-width="0.6"/>
<path d="M546.81 446.50H553.01M546.81 451.70H553.01M549.91 446.50V451.70" stroke="#222" stroke-width="0.9" fill="none"/>
<circle cx="549.91" cy="449.10" r="2.45" fill="#111111" stroke="#000" stroke-width="0.6"/>
<path d="M553.48 452.12H559.68M553.48 457.32H559.68M556.58 452.12V457.32" stroke="#222" stroke-width="0.9" fill="none"/>
<circle cx="556.58" cy="454.72" r="2.45" fill="#111111" stroke="#000" stroke-width="0.6"/>
<path d="M560.14 457.37H566.34M560.14 462.57H566.34M563.24 457.37V462.57" stroke="#222" stroke-width="0.9" fill="none"/>
<circle cx="563.24" cy="459.97" r="2.45" fill="#111111" stroke="#000" stroke-width="0.6"/>
<path d="M566.80 463.96H573.00M566.80 469.16H573.00M569.90 463.96V469.16" stroke="#222" stroke-width="0.9" fill="none"/>
<circle cx="569.90" cy="466.56" r="2.45" fill="#111111" stroke="#000" stroke-width="0.6"/>
<path d="M573.47 468.24H579.67M573.47 473.44H579.67M576.57 468.24V473.44" stroke="#222" stroke-width="0.9" fill="none"/>
<circle cx="576.57" cy="470.84" r="2.45" fill="#111111" stroke="#000" stroke-width="0.6"/>
<path d="M580.13 470.56H586.33M580.13 475.76H586.33M583.23 470.56V475.76" stroke="#222" stroke-width="0.9" fill="none"/>
<circle cx="583.23" cy="473.16" r="2.45" fill="#111111" stroke="#000" stroke-width="0.6"/>
<path d="M400.20 291.41H406.40M400.20 296.61H406.40M403.30 291.41V296.61" stroke="#222" stroke-width="0.9" fill="none"/>
<path d="M403.30 296.61L405.90 292.32L400.70 292.32Z" fill="#0aa04a" stroke="#000" stroke-width="0.6" stroke-linejoin="miter"/>
<path d="M406.87 298.59H413.07M406.87 303.79H413.07M409.97 298.59V303.79" stroke="#222" stroke-width="0.9" fill="none"/>
<path d="M409.97 303.79L412.57 299.50L407.37 299.50Z" fill="#0aa04a" stroke="#000" stroke-width="0.6" stroke-linejoin="miter"/>
<path d="M413.53 322.85H419.73M413.53 328.05H419.73M416.63 322.85V328.05" stroke="#222" stroke-width="0.9" fill="none"/>
<path d="M416.63 328.05L419.23 323.76L414.03 323.76Z" fill="#0aa04a" stroke="#000" stroke-width="0.6" stroke-linejoin="miter"/>
<path d="M420.20 349.25H426.40M420.20 354.45H426.40M423.30 349.25V354.45" stroke="#222" stroke-width="0.9" fill="none"/>
<path d="M423.30 354.45L425.90 350.16L420.70 350.16Z" fill="#0aa04a" stroke="#000" stroke-width="0.6" stroke-linejoin="miter"/>
<path d="M426.86 382.25H433.06M426.86 387.45H433.06M429.96 382.25V387.45" stroke="#222" stroke-width="0.9" fill="none"/>
<path d="M429.96 387.45L432.56 383.16L427.36 383.16Z" fill="#0aa04a" stroke="#000" stroke-width="0.6" stroke-linejoin="miter"/>
<path d="M433.52 412.72H439.72M433.52 417.92H439.72M436.62 412.72V417.92" stroke="#222" stroke-width="0.9" fill="none"/>
<path d="M436.62 417.92L439.22 413.63L434.02 413.63Z" fill="#0aa04a" stroke="#000" stroke-width="0.6" stroke-linejoin="miter"/>
<path d="M440.19 449.99H446.39M440.19 455.19H446.39M443.29 449.99V455.19" stroke="#222" stroke-width="0.9" fill="none"/>
<path d="M443.29 455.19L445.89 450.90L440.69 450.90Z" fill="#0aa04a" stroke="#000" stroke-width="0.6" stroke-linejoin="miter"/>
<path d="M446.85 470.95H453.05M446.85 476.15H453.05M449.95 470.95V476.15" stroke="#222" stroke-width="0.9" fill="none"/>
<path d="M449.95 476.15L452.55 471.86L447.35 471.86Z" fill="#0aa04a" stroke="#000" stroke-width="0.6" stroke-linejoin="miter"/>
<path d="M400.20 291.41H406.40M400.20 296.61H406.40M403.30 291.41V296.61" stroke="#222" stroke-width="0.9" fill="none"/>
<rect x="401.20" y="291.91" width="4.20" height="4.20" fill="#3f2a8c" stroke="#000" stroke-width="0.6"/>
<path d="M406.87 327.71H413.07M406.87 332.91H413.07M409.97 327.71V332.91" stroke="#222" stroke-width="0.9" fill="none"/>
<rect x="407.87" y="328.21" width="4.20" height="4.20" fill="#3f2a8c" stroke="#000" stroke-width="0.6"/>
<path d="M413.53 374.87H419.73M413.53 380.07H419.73M416.63 374.87V380.07" stroke="#222" stroke-width="0.9" fill="none"/>
<rect x="414.53" y="375.37" width="4.20" height="4.20" fill="#3f2a8c" stroke="#000" stroke-width="0.6"/>
<path d="M420.20 427.28H426.40M420.20 432.48H426.40M423.30 427.28V432.48" stroke="#222" stroke-width="0.9" fill="none"/>
<rect x="421.20" y="427.78" width="4.20" height="4.20" fill="#3f2a8c" stroke="#000" stroke-width="0.6"/>
<path d="M426.86 449.41H433.06M426.86 454.61H433.06M429.96 449.41V454.61" stroke="#222" stroke-width="0.9" fill="none"/>
<rect x="427.86" y="449.91" width="4.20" height="4.20" fill="#3f2a8c" stroke="#000" stroke-width="0.6"/>
<path d="M433.52 470.95H439.72M433.52 476.15H439.72M436.62 470.95V476.15" stroke="#222" stroke-width="0.9" fill="none"/>
<rect x="434.52" y="471.45" width="4.20" height="4.20" fill="#3f2a8c" stroke="#000" stroke-width="0.6"/>
<path d="M400.20 291.41H406.40M400.20 296.61H406.40M403.30 291.41V296.61" stroke="#222" stroke-width="0.9" fill="none"/>
<circle cx="403.30" cy="294.01" r="2.45" fill="#e62b24" stroke="#000" stroke-width="0.6"/>
<path d="M406.87 291.60H413.07M406.87 296.80H413.07M409.97 291.60V296.80" stroke="#222" stroke-width="0.9" fill="none"/>
<circle cx="409.97" cy="294.20" r="2.45" fill="#e62b24" stroke="#000" stroke-width="0.6"/>
<path d="M413.53 294.90H419.73M413.53 300.10H419.73M416.63 294.90V300.10" stroke="#222" stroke-width="0.9" fill="none"/>
<circle cx="416.63" cy="297.50" r="2.45" fill="#e62b24" stroke="#000" stroke-width="0.6"/>
<path d="M420.20 294.52H426.40M420.20 299.72H426.40M423.30 294.52V299.72" stroke="#222" stroke-width="0.9" fill="none"/>
<circle cx="423.30" cy="297.12" r="2.45" fill="#e62b24" stroke="#000" stroke-width="0.6"/>
<path d="M426.86 295.87H433.06M426.86 301.07H433.06M429.96 295.87V301.07" stroke="#222" stroke-width="0.9" fill="none"/>
<circle cx="429.96" cy="298.47" r="2.45" fill="#e62b24" stroke="#000" stroke-width="0.6"/>
<path d="M433.52 294.71H439.72M433.52 299.91H439.72M436.62 294.71V299.91" stroke="#222" stroke-width="0.9" fill="none"/>
<circle cx="436.62" cy="297.31" r="2.45" fill="#e62b24" stroke="#000" stroke-width="0.6"/>
<path d="M440.19 295.87H446.39M440.19 301.07H446.39M443.29 295.87V301.07" stroke="#222" stroke-width="0.9" fill="none"/>
<circle cx="443.29" cy="298.47" r="2.45" fill="#e62b24" stroke="#000" stroke-width="0.6"/>
<path d="M446.85 295.87H453.05M446.85 301.07H453.05M449.95 295.87V301.07" stroke="#222" stroke-width="0.9" fill="none"/>
<circle cx="449.95" cy="298.47" r="2.45" fill="#e62b24" stroke="#000" stroke-width="0.6"/>
<path d="M453.52 294.13H459.72M453.52 299.33H459.72M456.62 294.13V299.33" stroke="#222" stroke-width="0.9" fill="none"/>
<circle cx="456.62" cy="296.73" r="2.45" fill="#e62b24" stroke="#000" stroke-width="0.6"/>
<path d="M460.18 295.29H466.38M460.18 300.49H466.38M463.28 295.29V300.49" stroke="#222" stroke-width="0.9" fill="none"/>
<circle cx="463.28" cy="297.89" r="2.45" fill="#e62b24" stroke="#000" stroke-width="0.6"/>
<path d="M466.84 295.10H473.04M466.84 300.30H473.04M469.94 295.10V300.30" stroke="#222" stroke-width="0.9" fill="none"/>
<circle cx="469.94" cy="297.70" r="2.45" fill="#e62b24" stroke="#000" stroke-width="0.6"/>
<path d="M473.51 294.52H479.71M473.51 299.72H479.71M476.61 294.52V299.72" stroke="#222" stroke-width="0.9" fill="none"/>
<circle cx="476.61" cy="297.12" r="2.45" fill="#e62b24" stroke="#000" stroke-width="0.6"/>
<path d="M480.17 306.16H486.37M480.17 311.36H486.37M483.27 306.16V311.36" stroke="#222" stroke-width="0.9" fill="none"/>
<circle cx="483.27" cy="308.76" r="2.45" fill="#e62b24" stroke="#000" stroke-width="0.6"/>
<path d="M486.84 315.28H493.04M486.84 320.48H493.04M489.94 315.28V320.48" stroke="#222" stroke-width="0.9" fill="none"/>
<circle cx="489.94" cy="317.88" r="2.45" fill="#e62b24" stroke="#000" stroke-width="0.6"/>
<path d="M493.50 322.27H499.70M493.50 327.47H499.70M496.60 322.27V327.47" stroke="#222" stroke-width="0.9" fill="none"/>
<circle cx="496.60" cy="324.87" r="2.45" fill="#e62b24" stroke="#000" stroke-width="0.6"/>
<path d="M500.16 330.81H506.36M500.16 336.01H506.36M503.26 330.81V336.01" stroke="#222" stroke-width="0.9" fill="none"/>
<circle cx="503.26" cy="333.41" r="2.45" fill="#e62b24" stroke="#000" stroke-width="0.6"/>
<path d="M506.83 336.83H513.03M506.83 342.03H513.03M509.93 336.83V342.03" stroke="#222" stroke-width="0.9" fill="none"/>
<circle cx="509.93" cy="339.43" r="2.45" fill="#e62b24" stroke="#000" stroke-width="0.6"/>
<path d="M513.49 340.52H519.69M513.49 345.72H519.69M516.59 340.52V345.72" stroke="#222" stroke-width="0.9" fill="none"/>
<circle cx="516.59" cy="343.12" r="2.45" fill="#e62b24" stroke="#000" stroke-width="0.6"/>
<path d="M520.16 350.61H526.36M520.16 355.81H526.36M523.26 350.61V355.81" stroke="#222" stroke-width="0.9" fill="none"/>
<circle cx="523.26" cy="353.21" r="2.45" fill="#e62b24" stroke="#000" stroke-width="0.6"/>
<path d="M526.82 359.73H533.02M526.82 364.93H533.02M529.92 359.73V364.93" stroke="#222" stroke-width="0.9" fill="none"/>
<circle cx="529.92" cy="362.33" r="2.45" fill="#e62b24" stroke="#000" stroke-width="0.6"/>
<path d="M533.48 368.86H539.68M533.48 374.06H539.68M536.58 368.86V374.06" stroke="#222" stroke-width="0.9" fill="none"/>
<circle cx="536.58" cy="371.46" r="2.45" fill="#e62b24" stroke="#000" stroke-width="0.6"/>
<path d="M540.15 379.73H546.35M540.15 384.93H546.35M543.25 379.73V384.93" stroke="#222" stroke-width="0.9" fill="none"/>
<circle cx="543.25" cy="382.33" r="2.45" fill="#e62b24" stroke="#000" stroke-width="0.6"/>
<path d="M546.81 395.45H553.01M546.81 400.65H553.01M549.91 395.45V400.65" stroke="#222" stroke-width="0.9" fill="none"/>
<circle cx="549.91" cy="398.05" r="2.45" fill="#e62b24" stroke="#000" stroke-width="0.6"/>
<path d="M553.48 407.48H559.68M553.48 412.68H559.68M556.58 407.48V412.68" stroke="#222" stroke-width="0.9" fill="none"/>
<circle cx="556.58" cy="410.08" r="2.45" fill="#e62b24" stroke="#000" stroke-width="0.6"/>
<path d="M560.14 428.44H566.34M560.14 433.64H566.34M563.24 428.44V433.64" stroke="#222" stroke-width="0.9" fill="none"/>
<circle cx="563.24" cy="431.04" r="2.45" fill="#e62b24" stroke="#000" stroke-width="0.6"/>
<path d="M566.80 435.82H573.00M566.80 441.02H573.00M569.90 435.82V441.02" stroke="#222" stroke-width="0.9" fill="none"/>
<circle cx="569.90" cy="438.42" r="2.45" fill="#e62b24" stroke="#000" stroke-width="0.6"/>
<path d="M573.47 444.55H579.67M573.47 449.75H579.67M576.57 444.55V449.75" stroke="#222" stroke-width="0.9" fill="none"/>
<circle cx="576.57" cy="447.15" r="2.45" fill="#e62b24" stroke="#000" stroke-width="0.6"/>
<path d="M580.13 453.48H586.33M580.13 458.68H586.33M583.23 453.48V458.68" stroke="#222" stroke-width="0.9" fill="none"/>
<circle cx="583.23" cy="456.08" r="2.45" fill="#e62b24" stroke="#000" stroke-width="0.6"/>
<path d="M586.80 459.11H593.00M586.80 464.31H593.00M589.90 459.11V464.31" stroke="#222" stroke-width="0.9" fill="none"/>
<circle cx="589.90" cy="461.71" r="2.45" fill="#e62b24" stroke="#000" stroke-width="0.6"/>
<path d="M593.46 470.95H599.66M593.46 476.15H599.66M596.56 470.95V476.15" stroke="#222" stroke-width="0.9" fill="none"/>
<circle cx="596.56" cy="473.55" r="2.45" fill="#e62b24" stroke="#000" stroke-width="0.6"/>
<path d="M400.20 291.41H406.40M400.20 296.61H406.40M403.30 291.41V296.61" stroke="#222" stroke-width="0.9" fill="none"/>
<path d="M403.30 291.41L405.90 295.70L400.70 295.70Z" fill="#fff000" stroke="#000" stroke-width="0.6" stroke-linejoin="miter"/>
<path d="M406.87 297.62H413.07M406.87 302.82H413.07M409.97 297.62V302.82" stroke="#222" stroke-width="0.9" fill="none"/>
<path d="M409.97 297.62L412.57 301.91L407.37 301.91Z" fill="#fff000" stroke="#000" stroke-width="0.6" stroke-linejoin="miter"/>
<path d="M413.53 304.22H419.73M413.53 309.42H419.73M416.63 304.22V309.42" stroke="#222" stroke-width="0.9" fill="none"/>
<path d="M416.63 304.22L419.23 308.51L414.03 308.51Z" fill="#fff000" stroke="#000" stroke-width="0.6" stroke-linejoin="miter"/>
<path d="M420.20 311.98H426.40M420.20 317.18H426.40M423.30 311.98V317.18" stroke="#222" stroke-width="0.9" fill="none"/>
<path d="M423.30 311.98L425.90 316.27L420.70 316.27Z" fill="#fff000" stroke="#000" stroke-width="0.6" stroke-linejoin="miter"/>
<path d="M426.86 318.78H433.06M426.86 323.98H433.06M429.96 318.78V323.98" stroke="#222" stroke-width="0.9" fill="none"/>
<path d="M429.96 318.78L432.56 323.07L427.36 323.07Z" fill="#fff000" stroke="#000" stroke-width="0.6" stroke-linejoin="miter"/>
<path d="M433.52 335.86H439.72M433.52 341.06H439.72M436.62 335.86V341.06" stroke="#222" stroke-width="0.9" fill="none"/>
<path d="M436.62 335.86L439.22 340.15L434.02 340.15Z" fill="#fff000" stroke="#000" stroke-width="0.6" stroke-linejoin="miter"/>
<path d="M440.19 354.49H446.39M440.19 359.69H446.39M443.29 354.49V359.69" stroke="#222" stroke-width="0.9" fill="none"/>
<path d="M443.29 354.49L445.89 358.78L440.69 358.78Z" fill="#fff000" stroke="#000" stroke-width="0.6" stroke-linejoin="miter"/>
<path d="M446.85 378.37H453.05M446.85 383.57H453.05M449.95 378.37V383.57" stroke="#222" stroke-width="0.9" fill="none"/>
<path d="M449.95 378.37L452.55 382.66L447.35 382.66Z" fill="#fff000" stroke="#000" stroke-width="0.6" stroke-linejoin="miter"/>
<path d="M453.52 393.12H459.72M453.52 398.32H459.72M456.62 393.12V398.32" stroke="#222" stroke-width="0.9" fill="none"/>
<path d="M456.62 393.12L459.22 397.41L454.02 397.41Z" fill="#fff000" stroke="#000" stroke-width="0.6" stroke-linejoin="miter"/>
<path d="M460.18 420.29H466.38M460.18 425.49H466.38M463.28 420.29V425.49" stroke="#222" stroke-width="0.9" fill="none"/>
<path d="M463.28 420.29L465.88 424.58L460.68 424.58Z" fill="#fff000" stroke="#000" stroke-width="0.6" stroke-linejoin="miter"/>
<path d="M466.84 445.33H473.04M466.84 450.53H473.04M469.94 445.33V450.53" stroke="#222" stroke-width="0.9" fill="none"/>
<path d="M469.94 445.33L472.54 449.62L467.34 449.62Z" fill="#fff000" stroke="#000" stroke-width="0.6" stroke-linejoin="miter"/>
<path d="M473.51 456.39H479.71M473.51 461.60H479.71M476.61 456.39V461.60" stroke="#222" stroke-width="0.9" fill="none"/>
<path d="M476.61 456.39L479.21 460.69L474.01 460.69Z" fill="#fff000" stroke="#000" stroke-width="0.6" stroke-linejoin="miter"/>
<path d="M480.17 472.31H486.37M480.17 477.51H486.37M483.27 472.31V477.51" stroke="#222" stroke-width="0.9" fill="none"/>
<path d="M483.27 472.31L485.87 476.60L480.67 476.60Z" fill="#fff000" stroke="#000" stroke-width="0.6" stroke-linejoin="miter"/>
<path d="M400.20 291.41H406.40M400.20 296.61H406.40M403.30 291.41V296.61" stroke="#222" stroke-width="0.9" fill="none"/>
<rect x="401.20" y="291.91" width="4.20" height="4.20" fill="#e62b96" stroke="#000" stroke-width="0.6"/>
<path d="M406.87 306.94H413.07M406.87 312.14H413.07M409.97 306.94V312.14" stroke="#222" stroke-width="0.9" fill="none"/>
<rect x="407.87" y="307.44" width="4.20" height="4.20" fill="#e62b96" stroke="#000" stroke-width="0.6"/>
<path d="M413.53 335.86H419.73M413.53 341.06H419.73M416.63 335.86V341.06" stroke="#222" stroke-width="0.9" fill="none"/>
<rect x="414.53" y="336.36" width="4.20" height="4.20" fill="#e62b96" stroke="#000" stroke-width="0.6"/>
<path d="M420.20 358.76H426.40M420.20 363.96H426.40M423.30 358.76V363.96" stroke="#222" stroke-width="0.9" fill="none"/>
<rect x="421.20" y="359.26" width="4.20" height="4.20" fill="#e62b96" stroke="#000" stroke-width="0.6"/>
<path d="M426.86 370.21H433.06M426.86 375.41H433.06M429.96 370.21V375.41" stroke="#222" stroke-width="0.9" fill="none"/>
<rect x="427.86" y="370.71" width="4.20" height="4.20" fill="#e62b96" stroke="#000" stroke-width="0.6"/>
<path d="M433.52 402.24H439.72M433.52 407.44H439.72M436.62 402.24V407.44" stroke="#222" stroke-width="0.9" fill="none"/>
<rect x="434.52" y="402.74" width="4.20" height="4.20" fill="#e62b96" stroke="#000" stroke-width="0.6"/>
<path d="M440.19 417.96H446.39M440.19 423.16H446.39M443.29 417.96V423.16" stroke="#222" stroke-width="0.9" fill="none"/>
<rect x="441.19" y="418.46" width="4.20" height="4.20" fill="#e62b96" stroke="#000" stroke-width="0.6"/>
<path d="M446.85 449.60H453.05M446.85 454.80H453.05M449.95 449.60V454.80" stroke="#222" stroke-width="0.9" fill="none"/>
<rect x="447.85" y="450.10" width="4.20" height="4.20" fill="#e62b96" stroke="#000" stroke-width="0.6"/>
<path d="M453.52 469.59H459.72M453.52 474.79H459.72M456.62 469.59V474.79" stroke="#222" stroke-width="0.9" fill="none"/>
<rect x="454.52" y="470.09" width="4.20" height="4.20" fill="#e62b96" stroke="#000" stroke-width="0.6"/>
<line x1="551.9" y1="294.50" x2="576.8" y2="294.50" stroke="#1a1a1a" stroke-width="1.1"/>
<circle cx="564.50" cy="294.50" r="2.30" fill="#111111" stroke="#000" stroke-width="0.9"/>
<text class="b" x="582.9" y="300.10" font-size="10.9">40 <tspan font-size="8" dy="-5.3">O</tspan><tspan dy="5.3">C</tspan></text>
<line x1="551.9" y1="311.40" x2="576.8" y2="311.40" stroke="#e8302a" stroke-width="1.1"/>
<circle cx="564.50" cy="311.40" r="2.30" fill="#e62b24" stroke="#000" stroke-width="0.9"/>
<text class="b" x="582.9" y="317.00" font-size="10.9">40 <tspan font-size="8" dy="-5.3">O</tspan><tspan dy="5.3">C, 5 mM Ca</tspan><tspan font-size="10" dy="-3.3">2+</tspan></text>
<line x1="551.9" y1="328.90" x2="576.8" y2="328.90" stroke="#187f42" stroke-width="1.1"/>
<path d="M564.50 331.10L566.70 327.47L562.30 327.47Z" fill="#0aa04a" stroke="#000" stroke-width="0.9" stroke-linejoin="miter"/>
<text class="b" x="582.9" y="334.50" font-size="10.9">45 <tspan font-size="8" dy="-5.3">O</tspan><tspan dy="5.3">C</tspan></text>
<line x1="551.9" y1="346.10" x2="576.8" y2="346.10" stroke="#fff04a" stroke-width="1.1"/>
<path d="M564.50 343.90L566.70 347.53L562.30 347.53Z" fill="#fff000" stroke="#000" stroke-width="0.9" stroke-linejoin="miter"/>
<text class="b" x="582.9" y="351.70" font-size="10.9">45 <tspan font-size="8" dy="-5.3">O</tspan><tspan dy="5.3">C, 5 mM Ca</tspan><tspan font-size="10" dy="-3.3">2+</tspan></text>
<line x1="551.9" y1="363.30" x2="576.8" y2="363.30" stroke="#4f4390" stroke-width="1.1"/>
<rect x="562.30" y="361.10" width="4.40" height="4.40" fill="#3f2a8c" stroke="#000" stroke-width="0.9"/>
<text class="b" x="582.9" y="368.90" font-size="10.9">50 <tspan font-size="8" dy="-5.3">O</tspan><tspan dy="5.3">C</tspan></text>
<line x1="551.9" y1="380.50" x2="576.8" y2="380.50" stroke="#e8306e" stroke-width="1.1"/>
<rect x="562.30" y="378.30" width="4.40" height="4.40" fill="#e62b96" stroke="#000" stroke-width="0.9"/>
<text class="b" x="582.9" y="386.10" font-size="10.9">50 <tspan font-size="8" dy="-5.3">O</tspan><tspan dy="5.3">C, 5 mM Ca</tspan><tspan font-size="10" dy="-3.3">2+</tspan></text>
</svg></body></html>
